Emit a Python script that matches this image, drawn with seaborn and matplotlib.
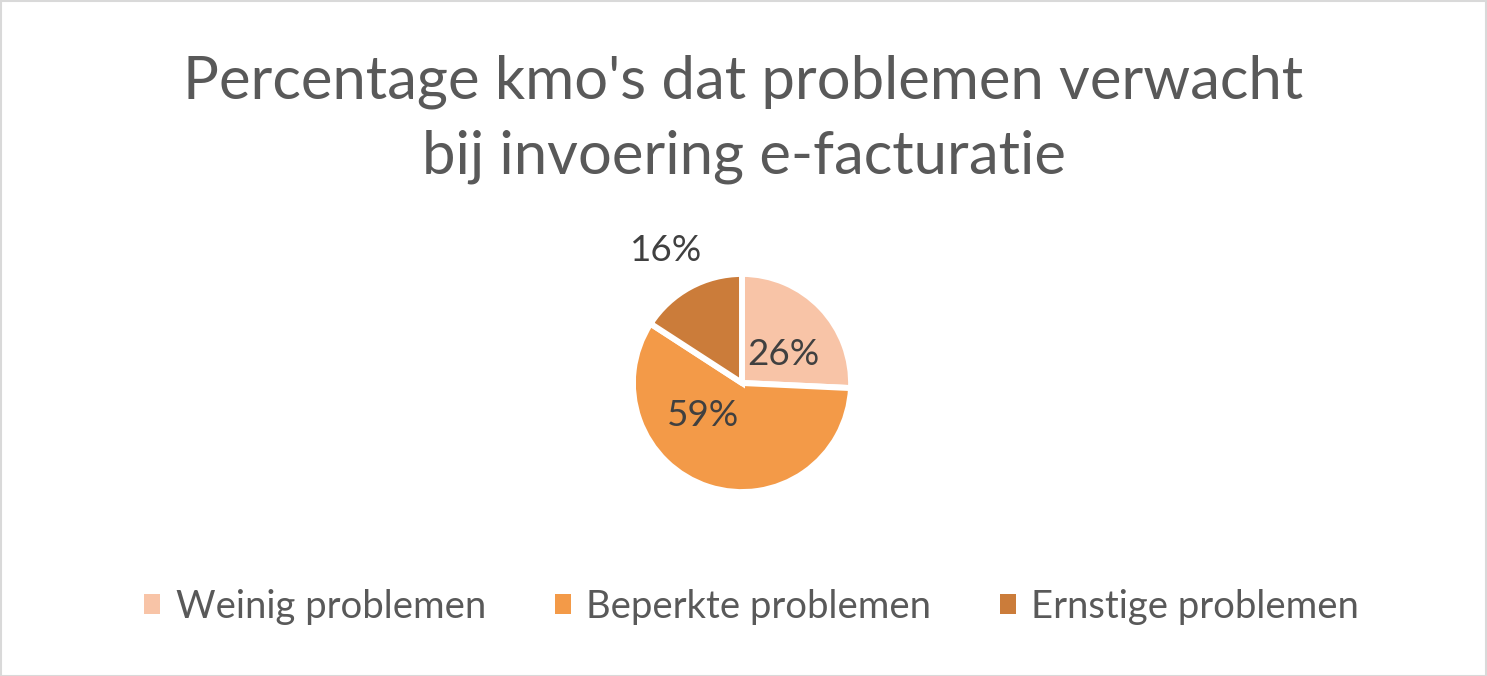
import matplotlib
matplotlib.use("Agg")
import matplotlib.pyplot as plt
import seaborn as sns
import numpy as np
from matplotlib.patches import Rectangle, Patch

categories = ["Weinig problemen", "Beperkte problemen", "Ernstige problemen"]
values = [26, 59, 16]
labels = ["26%", "59%", "16%"]
colors = ["#F8C4A7", "#F39A48", "#CB7C3A"]

title = "Percentage kmo's dat problemen verwacht\nbij invoering e-facturatie"

sns.set_theme(style="white")
plt.rcParams['font.family'] = ['Lato', 'DejaVu Sans']

W, H = 1487, 676
fig = plt.figure(figsize=(W / 100, H / 100), dpi=100)
fig.patch.set_facecolor("white")

# pie axes: center (742, 383) px, radius ~109 px
cx, cy, half = 742, 383, 120
ax = fig.add_axes([(cx - half) / W, (H - cy - half) / H, 2 * half / W, 2 * half / H])
wedges, _ = ax.pie(values, colors=colors, startangle=90, counterclock=False,
                   radius=1.0, wedgeprops=dict(edgecolor="white", linewidth=4.3))
ax.set_xlim(-1.1, 1.1)
ax.set_ylim(-1.1, 1.1)
ax.set_aspect("equal")
ax.axis("off")

# label placements (radius, angle in degrees)
label_pos = [(0.46, 35), (0.47, 220), (1.40, 120)]
for lab, (r, a) in zip(labels, label_pos):
    ax.text(r * np.cos(np.radians(a)), r * np.sin(np.radians(a)), lab,
            ha="center", va="center", fontsize=26.5, color="#404040", clip_on=False)

fig.text(0.5, 1 - 173 / H, title, ha="center", va="baseline", fontsize=43,
         color="#595959", linespacing=1.45)

handles = [Patch(facecolor=c, edgecolor="none") for c in colors]
fig.legend(handles, categories, loc="center", bbox_to_anchor=(0.5 + 8 / W, 1 - 607 / H),
           ncol=3, frameon=False, fontsize=27.5, handlelength=0.42, handleheight=0.42,
           handletextpad=0.4, columnspacing=1.8, labelcolor="#595959")

fig.add_artist(Rectangle((0.5 / W, 0.5 / H), 1 - 1.5 / W, 1 - 1.5 / H, transform=fig.transFigure,
                         fill=False, edgecolor="#D9D9D9", linewidth=1.5))

fig.savefig("out.png", dpi=100, facecolor="white")
